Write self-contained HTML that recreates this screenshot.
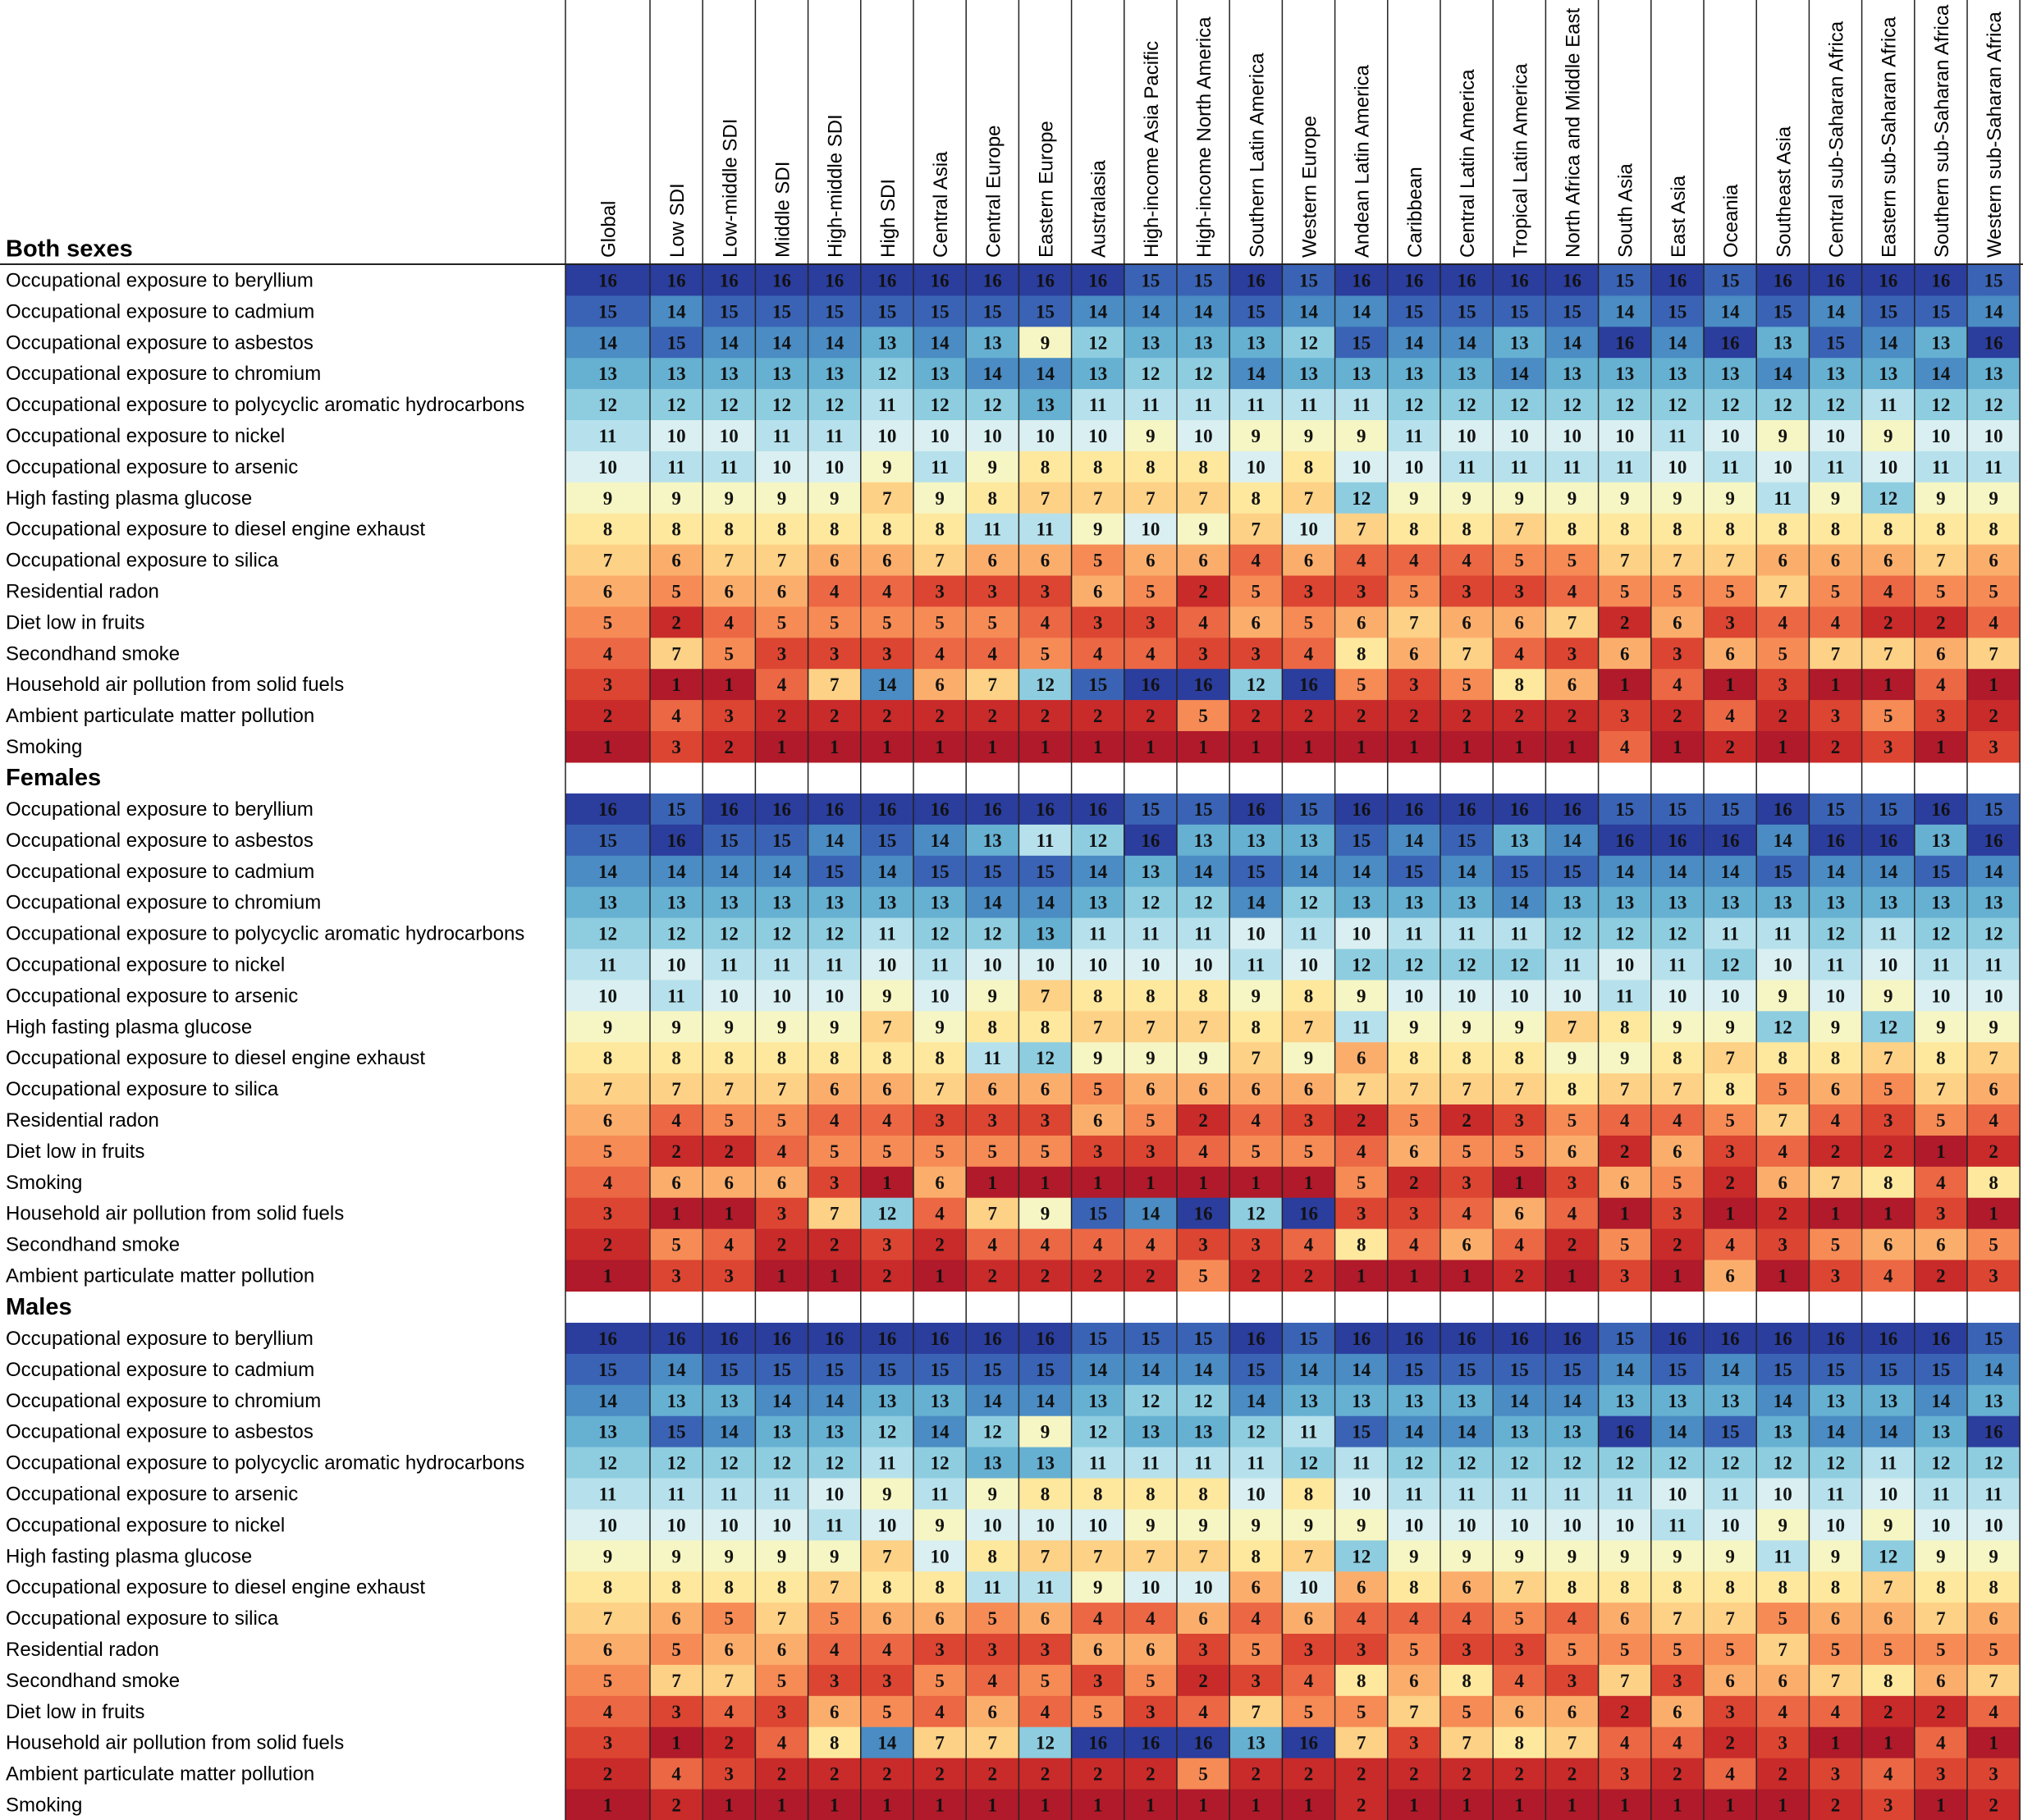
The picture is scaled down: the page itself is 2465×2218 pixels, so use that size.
<!DOCTYPE html>
<html><head><meta charset="utf-8">
<style>
html,body{margin:0;padding:0;background:#fff;}
svg{display:block;}
</style></head>
<body>
<svg id="chart" width="2465" height="2218" viewBox="0 0 2465 2218" xmlns="http://www.w3.org/2000/svg"></svg>
<script>
const columns = ["Global","Low SDI","Low-middle SDI","Middle SDI","High-middle SDI","High SDI","Central Asia","Central Europe","Eastern Europe","Australasia","High-income Asia Pacific","High-income North America","Southern Latin America","Western Europe","Andean Latin America","Caribbean","Central Latin America","Tropical Latin America","North Africa and Middle East","South Asia","East Asia","Oceania","Southeast Asia","Central sub-Saharan Africa","Eastern sub-Saharan Africa","Southern sub-Saharan Africa","Western sub-Saharan Africa"];

const bothLabels = ["Occupational exposure to beryllium","Occupational exposure to cadmium","Occupational exposure to asbestos","Occupational exposure to chromium","Occupational exposure to polycyclic aromatic hydrocarbons","Occupational exposure to nickel","Occupational exposure to arsenic","High fasting plasma glucose","Occupational exposure to diesel engine exhaust","Occupational exposure to silica","Residential radon","Diet low in fruits","Secondhand smoke","Household air pollution from solid fuels","Ambient particulate matter pollution","Smoking"];
const bothRanks = [
[16,16,16,16,16,16,16,16,16,16,15,15,16,15,16,16,16,16,16,15,16,15,16,16,16,16,15],
[15,14,15,15,15,15,15,15,15,14,14,14,15,14,14,15,15,15,15,14,15,14,15,14,15,15,14],
[14,15,14,14,14,13,14,13,9,12,13,13,13,12,15,14,14,13,14,16,14,16,13,15,14,13,16],
[13,13,13,13,13,12,13,14,14,13,12,12,14,13,13,13,13,14,13,13,13,13,14,13,13,14,13],
[12,12,12,12,12,11,12,12,13,11,11,11,11,11,11,12,12,12,12,12,12,12,12,12,11,12,12],
[11,10,10,11,11,10,10,10,10,10,9,10,9,9,9,11,10,10,10,10,11,10,9,10,9,10,10],
[10,11,11,10,10,9,11,9,8,8,8,8,10,8,10,10,11,11,11,11,10,11,10,11,10,11,11],
[9,9,9,9,9,7,9,8,7,7,7,7,8,7,12,9,9,9,9,9,9,9,11,9,12,9,9],
[8,8,8,8,8,8,8,11,11,9,10,9,7,10,7,8,8,7,8,8,8,8,8,8,8,8,8],
[7,6,7,7,6,6,7,6,6,5,6,6,4,6,4,4,4,5,5,7,7,7,6,6,6,7,6],
[6,5,6,6,4,4,3,3,3,6,5,2,5,3,3,5,3,3,4,5,5,5,7,5,4,5,5],
[5,2,4,5,5,5,5,5,4,3,3,4,6,5,6,7,6,6,7,2,6,3,4,4,2,2,4],
[4,7,5,3,3,3,4,4,5,4,4,3,3,4,8,6,7,4,3,6,3,6,5,7,7,6,7],
[3,1,1,4,7,14,6,7,12,15,16,16,12,16,5,3,5,8,6,1,4,1,3,1,1,4,1],
[2,4,3,2,2,2,2,2,2,2,2,5,2,2,2,2,2,2,2,3,2,4,2,3,5,3,2],
[1,3,2,1,1,1,1,1,1,1,1,1,1,1,1,1,1,1,1,4,1,2,1,2,3,1,3]];

const femaleLabels = ["Occupational exposure to beryllium","Occupational exposure to asbestos","Occupational exposure to cadmium","Occupational exposure to chromium","Occupational exposure to polycyclic aromatic hydrocarbons","Occupational exposure to nickel","Occupational exposure to arsenic","High fasting plasma glucose","Occupational exposure to diesel engine exhaust","Occupational exposure to silica","Residential radon","Diet low in fruits","Smoking","Household air pollution from solid fuels","Secondhand smoke","Ambient particulate matter pollution"];
const femaleRanks = [
[16,15,16,16,16,16,16,16,16,16,15,15,16,15,16,16,16,16,16,15,15,15,16,15,15,16,15],
[15,16,15,15,14,15,14,13,11,12,16,13,13,13,15,14,15,13,14,16,16,16,14,16,16,13,16],
[14,14,14,14,15,14,15,15,15,14,13,14,15,14,14,15,14,15,15,14,14,14,15,14,14,15,14],
[13,13,13,13,13,13,13,14,14,13,12,12,14,12,13,13,13,14,13,13,13,13,13,13,13,13,13],
[12,12,12,12,12,11,12,12,13,11,11,11,10,11,10,11,11,11,12,12,12,11,11,12,11,12,12],
[11,10,11,11,11,10,11,10,10,10,10,10,11,10,12,12,12,12,11,10,11,12,10,11,10,11,11],
[10,11,10,10,10,9,10,9,7,8,8,8,9,8,9,10,10,10,10,11,10,10,9,10,9,10,10],
[9,9,9,9,9,7,9,8,8,7,7,7,8,7,11,9,9,9,7,8,9,9,12,9,12,9,9],
[8,8,8,8,8,8,8,11,12,9,9,9,7,9,6,8,8,8,9,9,8,7,8,8,7,8,7],
[7,7,7,7,6,6,7,6,6,5,6,6,6,6,7,7,7,7,8,7,7,8,5,6,5,7,6],
[6,4,5,5,4,4,3,3,3,6,5,2,4,3,2,5,2,3,5,4,4,5,7,4,3,5,4],
[5,2,2,4,5,5,5,5,5,3,3,4,5,5,4,6,5,5,6,2,6,3,4,2,2,1,2],
[4,6,6,6,3,1,6,1,1,1,1,1,1,1,5,2,3,1,3,6,5,2,6,7,8,4,8],
[3,1,1,3,7,12,4,7,9,15,14,16,12,16,3,3,4,6,4,1,3,1,2,1,1,3,1],
[2,5,4,2,2,3,2,4,4,4,4,3,3,4,8,4,6,4,2,5,2,4,3,5,6,6,5],
[1,3,3,1,1,2,1,2,2,2,2,5,2,2,1,1,1,2,1,3,1,6,1,3,4,2,3]];

const maleLabels = ["Occupational exposure to beryllium","Occupational exposure to cadmium","Occupational exposure to chromium","Occupational exposure to asbestos","Occupational exposure to polycyclic aromatic hydrocarbons","Occupational exposure to arsenic","Occupational exposure to nickel","High fasting plasma glucose","Occupational exposure to diesel engine exhaust","Occupational exposure to silica","Residential radon","Secondhand smoke","Diet low in fruits","Household air pollution from solid fuels","Ambient particulate matter pollution","Smoking"];
const maleRanks = [
[16,16,16,16,16,16,16,16,16,15,15,15,16,15,16,16,16,16,16,15,16,16,16,16,16,16,15],
[15,14,15,15,15,15,15,15,15,14,14,14,15,14,14,15,15,15,15,14,15,14,15,15,15,15,14],
[14,13,13,14,14,13,13,14,14,13,12,12,14,13,13,13,13,14,14,13,13,13,14,13,13,14,13],
[13,15,14,13,13,12,14,12,9,12,13,13,12,11,15,14,14,13,13,16,14,15,13,14,14,13,16],
[12,12,12,12,12,11,12,13,13,11,11,11,11,12,11,12,12,12,12,12,12,12,12,12,11,12,12],
[11,11,11,11,10,9,11,9,8,8,8,8,10,8,10,11,11,11,11,11,10,11,10,11,10,11,11],
[10,10,10,10,11,10,9,10,10,10,9,9,9,9,9,10,10,10,10,10,11,10,9,10,9,10,10],
[9,9,9,9,9,7,10,8,7,7,7,7,8,7,12,9,9,9,9,9,9,9,11,9,12,9,9],
[8,8,8,8,7,8,8,11,11,9,10,10,6,10,6,8,6,7,8,8,8,8,8,8,7,8,8],
[7,6,5,7,5,6,6,5,6,4,4,6,4,6,4,4,4,5,4,6,7,7,5,6,6,7,6],
[6,5,6,6,4,4,3,3,3,6,6,3,5,3,3,5,3,3,5,5,5,5,7,5,5,5,5],
[5,7,7,5,3,3,5,4,5,3,5,2,3,4,8,6,8,4,3,7,3,6,6,7,8,6,7],
[4,3,4,3,6,5,4,6,4,5,3,4,7,5,5,7,5,6,6,2,6,3,4,4,2,2,4],
[3,1,2,4,8,14,7,7,12,16,16,16,13,16,7,3,7,8,7,4,4,2,3,1,1,4,1],
[2,4,3,2,2,2,2,2,2,2,2,5,2,2,2,2,2,2,2,3,2,4,2,3,4,3,3],
[1,2,1,1,1,1,1,1,1,1,1,1,1,1,2,1,1,1,1,1,1,1,1,2,3,1,2]];

const sectionTitles = ["Both sexes","Females","Males"];

const palette = ["#b01a2a","#c92a2a","#dc4532","#ec6744","#f68b56","#fbae6c","#fdd186","#fee89e","#f6f6c4","#d9eff1","#b6e1ec","#8ecde0","#66b0d2","#4a8cc3","#3a63b5","#2b3d9d"];
function colorFor(r){ return palette[Math.max(1,Math.min(16,r))-1]; }

const svg = document.getElementById('chart');
const NS = "http://www.w3.org/2000/svg";
const left = 689, globalW = 103, colW = 64.2, rowH = 37.9;
const blockTops = [322.5, 967, 1612];
function colX(i){ return i===0 ? left : left + globalW + (i-1)*colW; }
function colW_(i){ return i===0 ? globalW : colW; }
function mk(tag, attrs){ const e=document.createElementNS(NS,tag); for(const k in attrs) e.setAttribute(k,attrs[k]); return e; }

columns.forEach((c,i)=>{
  const cx = colX(i) + colW_(i)/2 + 9;
  const t = mk('text',{x:0,y:0,transform:`translate(${cx},314) rotate(-90)`,'font-family':'"Liberation Sans", sans-serif','font-size':'24','fill':'#000'});
  t.textContent = c;
  
  
  svg.appendChild(t);
});

const blocks = [[bothLabels,bothRanks],[femaleLabels,femaleRanks],[maleLabels,maleRanks]];
blocks.forEach((b,bi)=>{
  const top = blockTops[bi];
  const title = mk('text',{x:7,y:top-10,'font-family':'"Liberation Sans", sans-serif','font-size':'29','font-weight':'bold','fill':'#000'});
  title.textContent = sectionTitles[bi];
  
  
  svg.appendChild(title);
  b[0].forEach((lab,ri)=>{
    const y = top + ri*rowH;
    const t = mk('text',{x:7,y:y+rowH/2+8,'font-family':'"Liberation Sans", sans-serif','font-size':'24','fill':'#000'});
    t.textContent = lab;
    
    
    svg.appendChild(t);
    b[1][ri].forEach((v,ci)=>{
      const x = colX(ci), w = colW_(ci);
      const r = mk('rect',{x:x,y:y,width:w+0.6,height:rowH+0.6,fill:colorFor(v)});
      
      
      svg.appendChild(r);
      const n = mk('text',{x:x+w/2,y:y+rowH/2+8,'text-anchor':'middle','font-family':'"Liberation Serif", serif','font-size':'23','font-weight':'bold','fill':'#111'});
      n.textContent = v;
      
      
      svg.appendChild(n);
    });
  });
});

for(let i=0;i<=columns.length;i++){
  const x = i===columns.length ? colX(i-1)+colW : colX(i);
  const l = mk('line',{x1:x,y1:0,x2:x,y2:2218,stroke:'#222','stroke-width':'1.5'});
  
  
  svg.appendChild(l);
}
const hl = mk('line',{x1:0,y1:322,x2:2465,y2:322,stroke:'#222','stroke-width':'2'});


svg.appendChild(hl);
</script>
</body></html>
